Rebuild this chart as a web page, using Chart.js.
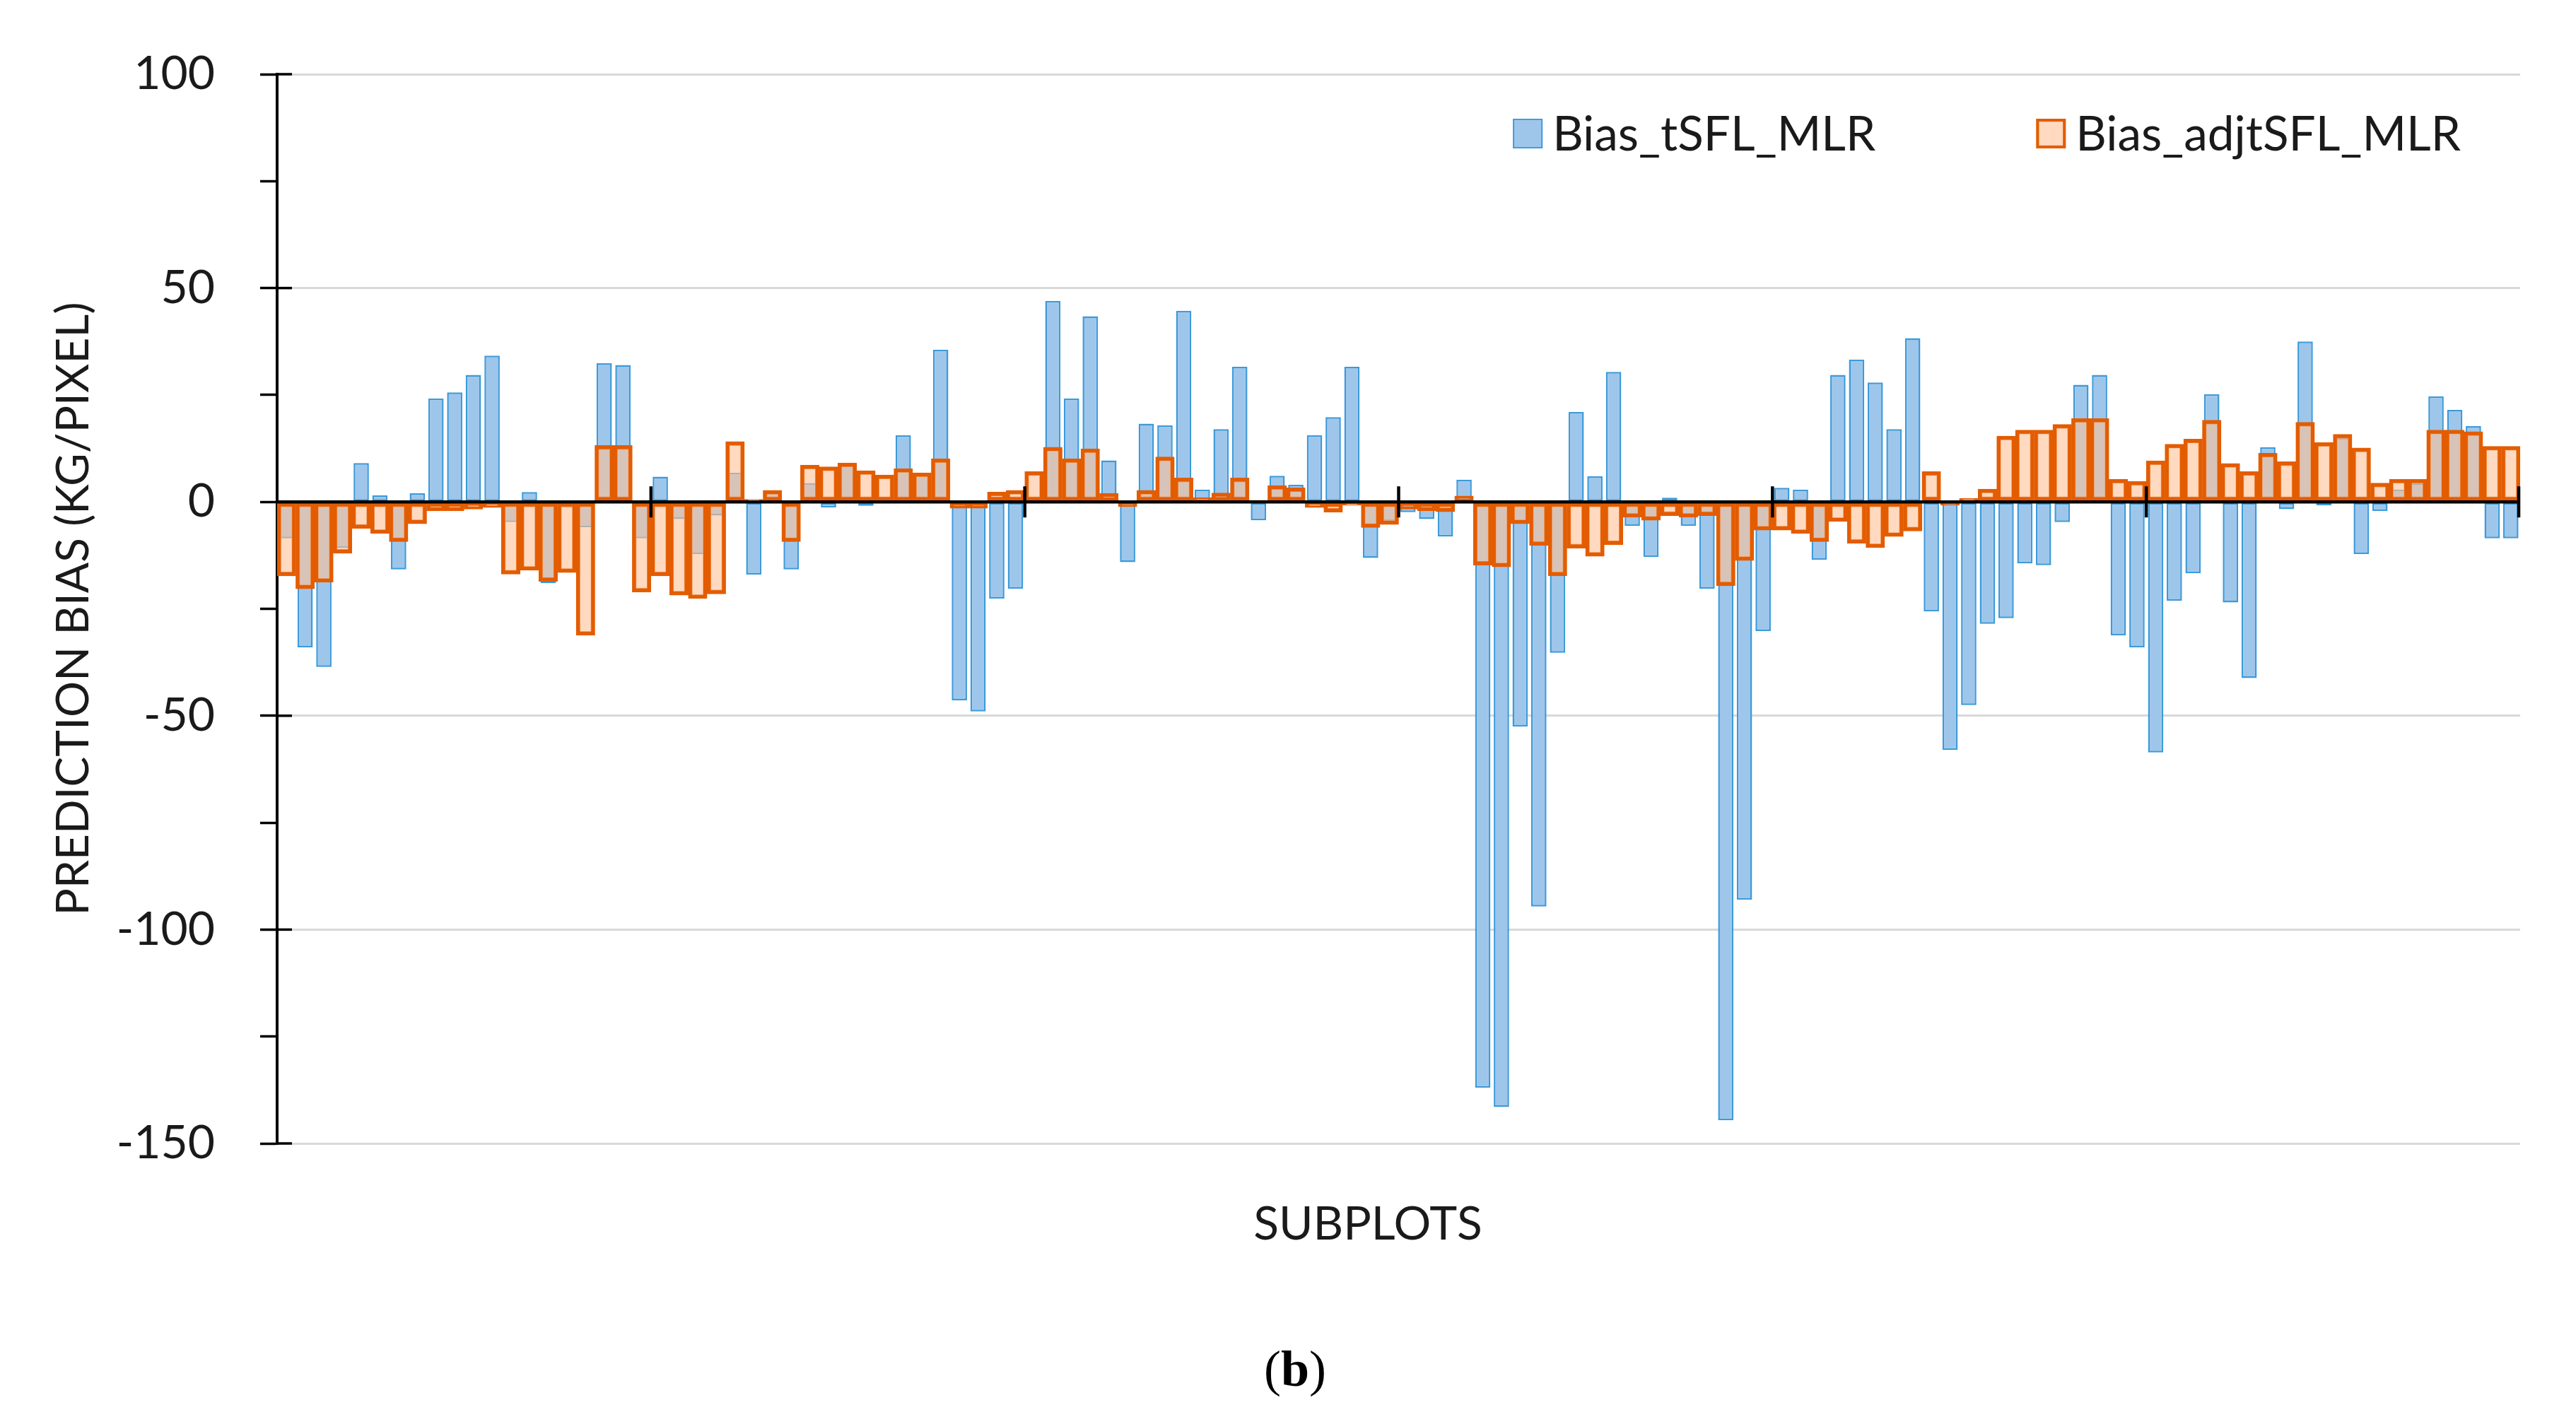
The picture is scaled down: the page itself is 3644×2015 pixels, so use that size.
<!DOCTYPE html>
<html>
<head>
<meta charset="utf-8">
<title>Prediction bias by subplot</title>
<script src="https://cdn.jsdelivr.net/npm/chart.js@4.4.1/dist/chart.umd.min.js"></script>
<style>
  html, body { margin: 0; padding: 0; background: #fff; }
  #wrap { position: relative; width: 3644px; height: 2015px; }
</style>
</head>
<body>
<div id="wrap"><canvas id="biasChart"></canvas></div>
<script>
// ─── DATA ─────────────────────────────────────────
// 120 subplots, ticks on the zero line every 20 subplots
const GROUP_SIZE = 20;
const SUBPLOTS = Array.from({ length: 120 }, (_, i) => 'S' + (i + 1));

const BIAS_TSFL_MLR = [
  -8.5, -34, -38.6, -10.8, 9.1, 1.5, -15.8, 2, 24.2, 25.6, 29.7, 34.2, -4.7, 2.3, -19, -1.3, -5.9, 32.4, 32, -8.5,
  5.9, -4, -12.2, -3.2, 6.8, -17, 2, -15.8, 4.4, -1.3, 8.5, -0.9, 0.6, 15.6, 6.7, 35.6, -46.4, -49, -22.6, -20.3,
  1, 47, 24.2, 43.4, 9.7, -14.1, 18.3, 17.9, 44.7, 2.9, 17, 31.6, -4.3, 6.1, 4, 15.6, 19.8, 31.6, -13.1, -4.5,
  -2.4, -4, -8.1, 5.2, -137, -141.5, -52.5, -94.6, -35.3, 21, 6, 30.4, -5.6, -12.9, 1, -5.6, -20.3, -144.6, -93, -30.2,
  3.3, 2.9, -13.5, 29.7, 33.3, 27.9, 17, 38.3, -25.6, -58, -47.5, -28.5, -27.2, -14.4, -14.8, -4.7, 27.4, 29.7, -31.2, -34,
  -58.6, -23.1, -16.7, 25.2, -23.5, -41.2, 12.8, -1.7, 37.5, -0.8, 15, -12.2, -2.1, 2.9, 4.4, 24.7, 21.5, 17.7, -8.5, -8.5
];

const BIAS_ADJTSFL_MLR = [
  -17.3, -20.3, -18.8, -12, -6.2, -7.4, -9.3, -5.1, -2.1, -2.1, -1.7, -1.3, -16.9, -16, -18.6, -16.5, -31.2, 13.2, 13.2, -21.1,
  -17.3, -21.8, -22.6, -21.5, 14.1, 0.6, 2.7, -9.3, 8.6, 8.2, 9.1, 7.3, 6.3, 7.8, 6.8, 10.1, -1.5, -1.5, 2.3, 2.7,
  7.1, 12.8, 10.1, 12.4, 2, -1.1, 2.7, 10.5, 5.6, 1, 2.1, 5.6, 0.4, 3.8, 3.3, -1.3, -2.4, -0.8, -6, -5.3,
  -1.7, -2.1, -2.3, 1.4, -14.8, -15.2, -5.1, -10.2, -17.3, -10.8, -12.7, -10, -3.6, -4.3, -3.2, -3.6, -3.2, -19.6, -13.7, -6.6,
  -6.6, -7.4, -9.3, -4.6, -9.7, -10.7, -8.1, -6.8, 7.1, -0.8, 0.8, 3, 15.4, 16.8, 16.8, 18.1, 19.5, 19.5, 5.3, 4.8,
  9.6, 13.5, 14.7, 19.1, 9, 7.1, 11.4, 9.4, 18.6, 13.9, 15.8, 12.6, 4.4, 5.3, 5.3, 16.8, 16.8, 16.4, 13, 13
];

const Y_MIN = -150;
const Y_MAX = 100;
const Y_STEP = 25;
const Y_LABEL_STEP = 50;

// ─── STYLE ────────────────────────────────────────
const FONT = 'Lato';
const TEXT = '#1a1a1a';
const BLUE_FILL = '#9ec6eb';
const BLUE_LINE = '#3d9ad9';
const ORANGE_FILL = 'rgba(255,193,150,0.6)';
const ORANGE_LINE = '#e35c00';

// zero line, group ticks, inner part of labelled y ticks, legend, captions
const overlay = {
  id: 'overlay',
  afterDatasetsDraw(chart) {
    const { ctx, chartArea: area, scales: { x, y } } = chart;
    const y0 = y.getPixelForValue(0);
    ctx.save();
    ctx.strokeStyle = '#000';

    ctx.lineWidth = 4.5;
    ctx.beginPath();
    ctx.moveTo(area.left, y0);
    ctx.lineTo(area.right, y0);
    ctx.stroke();

    for (let i = GROUP_SIZE; i <= SUBPLOTS.length; i += GROUP_SIZE) {
      const px = Math.min(x.getPixelForValue(i - 0.5), area.right - 2);
      ctx.beginPath();
      ctx.moveTo(px, y0 - 22);
      ctx.lineTo(px, y0 + 22);
      ctx.stroke();
    }

    ctx.lineWidth = 3.5;
    y.ticks.forEach(t => {
      if (t.value % Y_LABEL_STEP !== 0) return;
      const py = y.getPixelForValue(t.value);
      ctx.beginPath();
      ctx.moveTo(area.left, py);
      ctx.lineTo(area.left + 21, py);
      ctx.stroke();
    });
    ctx.restore();
  },

  afterDraw(chart) {
    const { ctx, chartArea: area } = chart;
    ctx.save();

    // legend, laid out right to left from the chart's right edge
    const sw = 42, gapText = 14, gapItem = 227;
    const cy = area.top + 84;
    ctx.font = `67.5px ${FONT}`;
    ctx.textBaseline = 'middle';
    ctx.textAlign = 'left';
    let right = area.right - 84;
    const items = chart.data.datasets.slice().reverse();
    items.forEach(ds => {
      const tw = ctx.measureText(ds.label).width;
      const tx = right - tw;
      const sx = tx - gapText - sw;
      ctx.fillStyle = '#fff';
      ctx.fillRect(sx, cy - sw / 2, sw, sw);
      ctx.fillStyle = ds.backgroundColor;
      ctx.fillRect(sx, cy - sw / 2, sw, sw);
      ctx.strokeStyle = ds.borderColor;
      ctx.lineWidth = ds.borderWidth * 0.75;
      ctx.strokeRect(sx + ctx.lineWidth / 2, cy - sw / 2 + ctx.lineWidth / 2, sw - ctx.lineWidth, sw - ctx.lineWidth);
      ctx.fillStyle = TEXT;
      ctx.fillText(ds.label, tx, cy + 2);
      right = sx - gapItem;
    });

    // x axis title, set slightly left of the plot centre as in the source figure
    ctx.font = `66px ${FONT}`;
    ctx.textAlign = 'center';
    ctx.fillText('SUBPLOTS', 1935, 1733);

    // figure caption "(b)"
    const capY = 1942;
    const regular = '72px "Liberation Serif"';
    const bold = 'bold 72px "Liberation Serif"';
    ctx.textAlign = 'left';
    ctx.font = regular;
    const wp = ctx.measureText('(').width;
    const wq = ctx.measureText(')').width;
    ctx.font = bold;
    const wb = ctx.measureText('b').width;
    let cx = chart.width / 2 + 10 - (wp + wb + wq) / 2;
    ctx.fillStyle = '#000';
    ctx.font = regular;
    ctx.fillText('(', cx, capY);
    cx += wp;
    ctx.font = bold;
    ctx.fillText('b', cx, capY);
    cx += wb;
    ctx.font = regular;
    ctx.fillText(')', cx, capY);

    ctx.restore();
  }
};

new Chart(document.getElementById('biasChart'), {
  type: 'bar',
  data: {
    labels: SUBPLOTS,
    datasets: [
      {
        label: 'Bias_tSFL_MLR',
        data: BIAS_TSFL_MLR,
        backgroundColor: BLUE_FILL,
        borderColor: BLUE_LINE,
        borderWidth: 2.5,
        borderSkipped: false,
        barPercentage: 0.82,
        categoryPercentage: 1,
        grouped: false,
        order: 2
      },
      {
        label: 'Bias_adjtSFL_MLR',
        data: BIAS_ADJTSFL_MLR,
        backgroundColor: ORANGE_FILL,
        borderColor: ORANGE_LINE,
        borderWidth: 5.5,
        borderSkipped: false,
        barPercentage: 1,
        categoryPercentage: 1,
        grouped: false,
        order: 1
      }
    ]
  },
  options: {
    responsive: true,
    maintainAspectRatio: false,
    devicePixelRatio: 1,
    animation: false,
    layout: { padding: { top: 105, right: 79, bottom: 0, left: 0 } },
    plugins: {
      legend: { display: false },
      tooltip: { enabled: false }
    },
    scales: {
      x: {
        offset: true,
        afterFit: s => { s.height = 397; },
        grid: { display: false },
        border: { display: false },
        ticks: { display: false },
        title: { display: false }
      },
      y: {
        min: Y_MIN,
        max: Y_MAX,
        afterFit: s => { s.width = 392; },
        border: { display: true, color: '#000', width: 4 },
        grid: {
          color: c => (c.tick.value % Y_LABEL_STEP === 0 && c.tick.value !== 0) ? '#d9d9d9' : 'rgba(0,0,0,0)',
          lineWidth: 3,
          tickColor: '#000',
          tickWidth: 3.5,
          tickLength: 24,
          drawTicks: true
        },
        ticks: {
          stepSize: Y_STEP,
          padding: 64,
          color: TEXT,
          font: { family: FONT, size: 66 },
          callback: v => (v % Y_LABEL_STEP === 0 ? String(v) : '')
        },
        title: {
          display: true,
          text: 'PREDICTION BIAS (KG/PIXEL)',
          color: TEXT,
          font: { family: FONT, size: 64 },
          padding: { top: 66, bottom: 0 }
        }
      }
    }
  },
  plugins: [overlay]
});
</script>
</body>
</html>
